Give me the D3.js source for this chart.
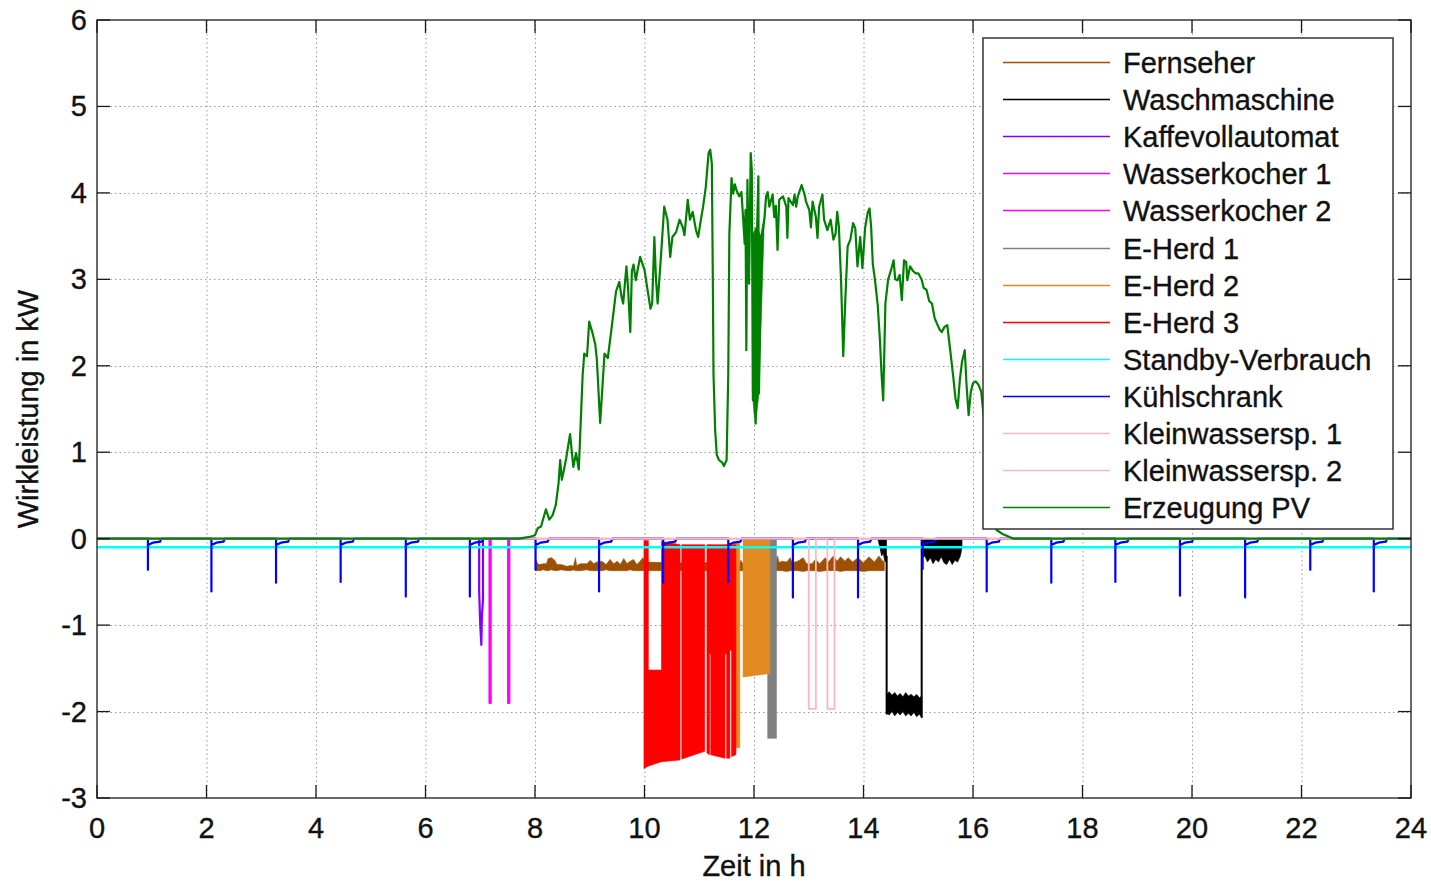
<!DOCTYPE html>
<html>
<head>
<meta charset="utf-8">
<script src="https://cdn.jsdelivr.net/npm/d3@7"></script>
<style>
  body { margin: 0; background: #fff; }
  svg text { font-family: "Liberation Sans", Arial, sans-serif; fill: #111; stroke: #111; stroke-width: 0.35px; }
</style>
</head>
<body>
<svg id="chart" width="1431" height="881"></svg>
<script>
// axis ticks
const xTicks = [0, 2, 4, 6, 8, 10, 12, 14, 16, 18, 20, 22, 24];
const yTicks = [-3, -2, -1, 0, 1, 2, 3, 4, 5, 6];

// legend (plot order)
const seriesNames = ["Fernseher", "Waschmaschine", "Kaffevollautomat", "Wasserkocher 1", "Wasserkocher 2",
  "E-Herd 1", "E-Herd 2", "E-Herd 3", "Standby-Verbrauch", "Kühlschrank",
  "Kleinwassersp. 1", "Kleinwassersp. 2", "Erzeugung PV"];
const seriesColors = ["#9c5000", "#000000", "#8000ff", "#ff00ff", "#ff00ff",
  "#808080", "#e08a20", "#ff0000", "#00ffff", "#0000ff",
  "#ffb6c1", "#ffb6c1", "#008000"];

// dense switching loads read as envelopes: [t, upper, lower], null = gap
const fernseherBand = [
  [8.01,-0.24,-0.37],[8.05,-0.29,-0.37],[8.09,-0.3,-0.37],[8.15,-0.29,-0.36],[8.21,-0.29,-0.37],[8.24,-0.23,-0.37],
  [8.3,-0.22,-0.36],[8.36,-0.25,-0.37],[8.4,-0.3,-0.37],[8.48,-0.3,-0.36],[8.58,-0.32,-0.37],[8.66,-0.31,-0.37],
  [8.7,-0.32,-0.36],[8.74,-0.22,-0.37],[8.76,-0.31,-0.37],[8.83,-0.29,-0.37],[8.95,-0.29,-0.36],[9.01,-0.25,-0.37],
  [9.07,-0.29,-0.37],[9.13,-0.27,-0.37],[9.22,-0.26,-0.37],[9.3,-0.3,-0.36],[9.37,-0.24,-0.37],[9.44,-0.29,-0.37],
  [9.5,-0.26,-0.37],[9.56,-0.3,-0.37],[9.62,-0.23,-0.37],[9.68,-0.29,-0.37],[9.74,-0.26,-0.36],[9.8,-0.24,-0.37],
  [9.86,-0.3,-0.37],[9.92,-0.26,-0.37],[9.97,-0.22,-0.37],[10.0,-0.27,-0.37],[10.5,-0.28,-0.37],[11.0,-0.28,-0.37],
  [11.6,-0.27,-0.37],[11.67,-0.21,-0.37],[11.72,-0.3,-0.37],[11.76,-0.25,-0.37],[11.8,-0.3,-0.37],[12.4,-0.28,-0.37],
  [12.43,-0.2,-0.37],[12.46,-0.28,-0.37],[12.5,-0.26,-0.37],[12.6,-0.27,-0.38],[12.66,-0.22,-0.37],[12.7,-0.28,-0.37],
  [12.8,-0.26,-0.37],[12.9,-0.22,-0.38],[12.96,-0.29,-0.37],[13.06,-0.29,-0.37],[13.12,-0.24,-0.37],[13.2,-0.29,-0.38],
  [13.3,-0.22,-0.37],[13.36,-0.27,-0.37],[13.45,-0.2,-0.37],[13.52,-0.26,-0.37],[13.58,-0.21,-0.38],[13.66,-0.26,-0.37],
  [13.72,-0.22,-0.37],[13.8,-0.27,-0.37],[13.9,-0.22,-0.37],[14.0,-0.28,-0.38],[14.1,-0.21,-0.37],[14.2,-0.27,-0.37],
  [14.28,-0.2,-0.37],[14.35,-0.26,-0.37],[14.38,-0.26,-0.37]
];
const waschBand = [
  [14.27,0,-0.03],[14.3,0,-0.1],[14.33,0,-0.2],[14.36,0,-0.17],[14.39,0,-0.26],[14.42,0,-0.27], null,
  [14.41,-0.2,-2.03],[14.435,-0.2,-2.03], null,
  [14.42,-1.8,-2.02],[14.47,-1.77,-2.04],[14.52,-1.81,-2.0],[14.57,-1.78,-2.05],[14.62,-1.82,-2.01],[14.67,-1.79,-2.04],
  [14.72,-1.83,-2.0],[14.77,-1.78,-2.05],[14.82,-1.82,-2.02],[14.87,-1.8,-2.05],[14.92,-1.83,-2.01],[14.97,-1.8,-2.06],
  [15.02,-1.84,-2.03],[15.065,-1.82,-2.07], null,
  [15.05,0,-2.07],[15.075,0,-2.07], null,
  [15.07,0,-0.22],[15.12,0,-0.2],[15.17,0,-0.27],[15.22,0,-0.22],[15.27,0,-0.29],[15.32,0,-0.24],[15.37,0,-0.27],
  [15.42,0,-0.21],[15.47,0,-0.28],[15.52,0,-0.3],[15.57,0,-0.24],[15.62,0,-0.3],[15.67,0,-0.25],[15.72,0,-0.27],
  [15.77,0,-0.2],[15.8,0,-0.1]
];
const eHerd1Band = [[12.25,0,-2.31],[12.41,0,-2.31]];
const eHerd2Band = [[11.62,-0.04,-2.42],[11.74,-0.04,-2.42], null, [11.8,0,-1.6],[12.29,0,-1.56]];
const eHerd3Band = [
  [9.99,-0.02,-2.66],[10.07,-0.02,-2.63], null,
  [10.07,-1.52,-2.63],[10.31,-1.52,-2.58], null,
  [10.31,-0.03,-2.58],[10.65,-0.07,-2.56], null,
  [10.68,-0.07,-2.55],[11.1,-0.07,-2.46], null,
  [11.14,-0.07,-2.48],[11.19,-0.07,-2.5], null,
  [11.19,-0.07,-1.33],[11.21,-0.07,-1.33], null,
  [11.21,-0.07,-2.5],[11.47,-0.07,-2.54], null,
  [11.47,-0.07,-1.33],[11.5,-0.07,-1.33], null,
  [11.5,-0.07,-2.54],[11.56,-0.07,-2.54], null,
  [11.56,-0.07,-1.29],[11.59,-0.07,-1.29], null,
  [11.59,-0.07,-2.52],[11.67,-0.07,-2.5]
];

// single lines: [t, kW]
const kaffeeLine = [[6.98,0],[6.98,-0.6],[7.0,-1.0],[7.02,-1.23],[7.03,-0.9],[7.05,-0.7],[7.05,0]];
const wk1Line = [[7.17,0],[7.17,-1.9],[7.19,-1.9],[7.19,0]];
const wk2Line = [[7.51,0],[7.51,-1.9],[7.53,-1.9],[7.53,0]];
const standbyLine = [[0,-0.1],[24,-0.1]];
const kws1Line = [[0,0],[13.0,0],[13.0,-1.97],[13.13,-1.97],[13.13,0],[24,0]];
const kws2Line = [[0,0],[13.34,0],[13.34,-1.97],[13.47,-1.97],[13.47,0],[24,0]];

// fridge cycles: start time, peak draw, and the tail read after each peak (offset h, kW)
const fridgeStart = [0.93, 2.09, 3.27, 4.45, 5.64, 6.81, 8.01, 9.17, 10.34, 11.53, 12.71, 13.9, 15.08, 16.25, 17.43, 18.6, 19.78, 20.97, 22.16, 23.32];
const fridgePeak = [-0.36, -0.61, -0.51, -0.5, -0.67, -0.67, -0.36, -0.61, -0.51, -0.5, -0.68, -0.68, -0.35, -0.61, -0.51, -0.5, -0.66, -0.68, -0.36, -0.61];
const fridgeTail = [[0, -0.073], [0.09, -0.046], [0.22, -0.035], [0.245, 0]];

// PV generation
const pvLine = [
  [0,0],[7.71,0],[7.9,0.02],[8.0,0.04],[8.05,0.12],[8.11,0.14],[8.2,0.34],[8.26,0.22],[8.32,0.27],[8.38,0.39],
  [8.43,0.64],[8.46,0.91],[8.49,0.68],[8.53,0.8],[8.57,0.93],[8.64,1.21],[8.7,0.83],[8.75,0.99],[8.8,0.8],
  [8.87,1.89],[8.9,2.14],[8.95,2.11],[8.99,2.51],[9.05,2.38],[9.1,2.25],[9.13,2.07],[9.19,1.34],[9.22,1.64],
  [9.27,2.14],[9.33,2.09],[9.39,2.39],[9.48,2.86],[9.54,2.97],[9.58,2.8],[9.61,2.72],[9.67,3.15],[9.7,2.9],
  [9.74,2.39],[9.77,3.1],[9.8,3.17],[9.84,2.99],[9.92,3.26],[10.0,3.11],[10.06,2.86],[10.11,2.66],[10.14,2.72],
  [10.18,3.49],[10.21,3.0],[10.24,2.72],[10.3,3.26],[10.36,3.84],[10.42,3.69],[10.47,3.26],[10.51,3.49],
  [10.58,3.55],[10.64,3.69],[10.7,3.6],[10.73,3.51],[10.79,3.92],[10.83,3.69],[10.88,3.78],[10.94,3.57],
  [10.98,3.49],[11.03,3.69],[11.07,3.84],[11.12,4.07],[11.17,4.46],[11.2,4.5],[11.23,4.34],[11.25,2.84],
  [11.26,1.91],[11.29,1.26],[11.32,0.97],[11.36,0.91],[11.42,0.88],[11.45,0.84],[11.5,0.91],[11.53,1.91],
  [11.55,3.53],[11.59,4.17],[11.62,3.99],[11.65,4.1],[11.68,4.03],[11.73,3.96],[11.77,4.01],[11.8,3.72],
  [11.83,3.41],[11.845,3.8],[11.86,2.18],[11.88,4.15],[11.91,2.95],[11.94,4.46],[11.96,4.26],[11.98,1.6],
  [12.0,3.5],[12.03,1.33],[12.05,3.4],[12.08,4.19],[12.09,1.68],[12.12,2.84],[12.15,3.5],[12.19,3.7],
  [12.22,3.96],[12.25,4.01],[12.28,3.84],[12.34,3.98],[12.37,3.72],[12.4,3.85],[12.43,3.34],[12.46,3.92],
  [12.53,3.96],[12.59,3.84],[12.61,3.48],[12.63,3.94],[12.71,3.86],[12.74,3.98],[12.77,3.84],[12.8,3.96],
  [12.87,4.09],[12.92,3.99],[12.95,3.9],[13.01,3.8],[13.04,3.6],[13.07,3.9],[13.13,3.72],[13.16,3.48],
  [13.19,3.84],[13.25,3.98],[13.28,3.69],[13.34,3.57],[13.4,3.69],[13.45,3.46],[13.49,3.53],[13.52,3.78],
  [13.55,3.61],[13.59,2.99],[13.63,2.11],[13.67,2.8],[13.71,3.38],[13.76,3.46],[13.81,3.65],[13.85,3.59],
  [13.89,3.15],[13.94,3.49],[13.98,3.13],[14.03,3.6],[14.08,3.78],[14.11,3.82],[14.14,3.6],[14.17,3.18],
  [14.21,2.99],[14.26,2.7],[14.3,2.3],[14.33,1.9],[14.36,1.6],[14.4,2.72],[14.45,3.0],[14.5,3.1],[14.55,3.22],
  [14.58,3.0],[14.62,2.99],[14.66,3.05],[14.7,2.76],[14.74,3.22],[14.78,3.2],[14.8,2.99],[14.85,3.15],
  [14.9,3.1],[14.95,3.07],[15.0,3.07],[15.06,3.0],[15.1,2.9],[15.15,2.88],[15.2,2.75],[15.25,2.72],[15.3,2.55],
  [15.34,2.49],[15.39,2.42],[15.43,2.39],[15.48,2.45],[15.53,2.47],[15.58,2.2],[15.64,1.87],[15.68,1.62],
  [15.72,1.51],[15.76,1.84],[15.8,2.05],[15.85,2.18],[15.88,1.8],[15.92,1.43],[15.96,1.7],[16.0,1.8],
  [16.05,1.82],[16.1,1.78],[16.15,1.7],[16.18,1.51],[16.25,1.1],[16.35,0.5],[16.43,0.1],[16.55,0.05],
  [16.74,0],[24,0]
];
const pvBand = [[11.97,3.5,1.7],[12.0,3.55,1.45],[12.03,3.6,1.33],[12.06,3.5,1.5],[12.09,3.55,1.68],[12.12,3.5,2.3],[12.15,3.6,2.9],[12.18,3.7,3.5]];

const svg = d3.select("#chart");
const x = d3.scaleLinear().domain([0, 24]).range([97, 1411]);
const y = d3.scaleLinear().domain([-3, 6]).range([798, 20]);
const [x0, x1] = x.range();
const [y0, y1] = y.range();

const line = d3.line().x(d => x(d[0])).y(d => y(d[1]));
const band = d3.area().defined(d => d !== null)
  .x(d => x(d[0])).y0(d => y(d[1])).y1(d => y(d[2]));

// grid
const grid = svg.append("g").attr("stroke", "#9a9a9a").attr("stroke-width", 1).attr("stroke-dasharray", "1.5,3");
xTicks.slice(1, -1).forEach(t => grid.append("line")
  .attr("x1", x(t) + 0.5).attr("x2", x(t) + 0.5).attr("y1", y1).attr("y2", y0));
yTicks.slice(1, -1).forEach(v => grid.append("line")
  .attr("x1", x0).attr("x2", x1).attr("y1", Math.round(y(v)) + 0.5).attr("y2", Math.round(y(v)) + 0.5));

const plot = svg.append("g");
const drawBand = (data, color) => plot.append("path").datum(data).attr("d", band)
  .attr("fill", color).attr("stroke", color).attr("stroke-width", 0.6);
const drawLine = (data, color, w) => plot.append("path").datum(data).attr("d", line)
  .attr("fill", "none").attr("stroke", color).attr("stroke-width", w || 2).attr("stroke-linejoin", "round");

// fridge path
const fridgeLine = [[0, 0]];
fridgeStart.forEach((t, i) => {
  fridgeLine.push([t, 0], [t, fridgePeak[i]]);
  fridgeTail.forEach(d => fridgeLine.push([t + d[0], d[1]]));
});
fridgeLine.push([24, 0]);

drawBand(fernseherBand, seriesColors[0]);
drawBand(waschBand, seriesColors[1]);
drawLine(kaffeeLine, seriesColors[2], 2.2);
drawLine(wk1Line, seriesColors[3], 2.2);
drawLine(wk2Line, seriesColors[4], 2.2);
drawBand(eHerd1Band, seriesColors[5]);
drawBand(eHerd2Band, seriesColors[6]);
drawBand(eHerd3Band, seriesColors[7]);
drawLine(standbyLine, seriesColors[8], 2.4);
drawLine(fridgeLine, seriesColors[9], 2.2);
drawLine(kws1Line, seriesColors[10], 1.8);
drawLine(kws2Line, seriesColors[11], 1.8);
drawBand(pvBand, seriesColors[12]);
drawLine(pvLine, seriesColors[12], 2.2);

// axes box and inward ticks
const axis = svg.append("g").attr("stroke", "#1a1a1a").attr("stroke-width", 1.3).attr("fill", "none");
axis.append("rect").attr("x", x0).attr("y", y1).attr("width", x1 - x0).attr("height", y0 - y1);
const tl = 13;
xTicks.forEach(t => {
  axis.append("line").attr("x1", x(t)).attr("x2", x(t)).attr("y1", y0).attr("y2", y0 - tl);
  axis.append("line").attr("x1", x(t)).attr("x2", x(t)).attr("y1", y1).attr("y2", y1 + tl);
});
yTicks.forEach(v => {
  axis.append("line").attr("x1", x0).attr("x2", x0 + tl).attr("y1", y(v)).attr("y2", y(v));
  axis.append("line").attr("x1", x1).attr("x2", x1 - tl).attr("y1", y(v)).attr("y2", y(v));
});

const fs = 29;
svg.append("g").selectAll("text").data(xTicks).join("text")
  .attr("x", d => x(d)).attr("y", 838).attr("text-anchor", "middle").attr("font-size", fs).text(d => d);
svg.append("g").selectAll("text").data(yTicks).join("text")
  .attr("x", 87).attr("y", d => y(d) + 10).attr("text-anchor", "end").attr("font-size", fs).text(d => d);

svg.append("text").attr("x", 754).attr("y", 876).attr("text-anchor", "middle").attr("font-size", fs).text("Zeit in h");
svg.append("text").attr("transform", "translate(38,409) rotate(-90)").attr("text-anchor", "middle")
  .attr("font-size", fs).text("Wirkleistung in kW");

// legend
const lg = svg.append("g");
lg.append("rect").attr("x", 983).attr("y", 38).attr("width", 410).attr("height", 491)
  .attr("fill", "#fff").attr("stroke", "#333").attr("stroke-width", 1.5);
seriesNames.forEach((name, i) => {
  const ly = Math.round(62 + i * 37.1) + 0.5;
  lg.append("line").attr("x1", 1003).attr("x2", 1110).attr("y1", ly).attr("y2", ly)
    .attr("stroke", seriesColors[i]).attr("stroke-width", 1.4);
  lg.append("text").attr("x", 1123).attr("y", ly + 10).attr("font-size", fs).text(name);
});
</script>
</body>
</html>
